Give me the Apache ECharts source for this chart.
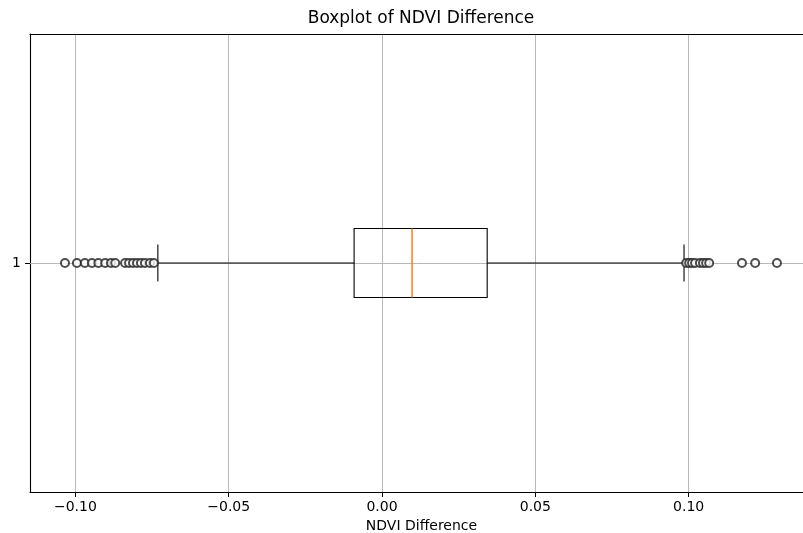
<!DOCTYPE html>
<html>
<head>
<meta charset="utf-8">
<script src="https://cdn.jsdelivr.net/npm/echarts@6/dist/echarts.min.js"></script>
<style>html,body{margin:0;padding:0;background:#fff}#c{width:803px;height:533px}</style>
</head>
<body>
<div id="c"></div>
<script>
// Data
const categories = ['1'];
const boxStats = [-0.0731, -0.0091, 0.0098, 0.0343, 0.0985]; // lower whisker, Q1, median, Q3, upper whisker
const outliersLow = [-0.1034, -0.0995, -0.0969, -0.0946, -0.0925, -0.0903, -0.0884, -0.0870, -0.0838, -0.0825, -0.0812, -0.0799, -0.0786, -0.0773, -0.0757, -0.0744];
const outliersHigh = [0.0992, 0.1002, 0.1011, 0.1021, 0.1037, 0.1047, 0.1057, 0.1067, 0.1174, 0.1217, 0.1288];
const xTicks = [-0.10, -0.05, 0.00, 0.05, 0.10];

const font = 'DejaVu Sans';
const fmt = v => (v < 0 ? '\u2212' : '') + Math.abs(v).toFixed(2);
const X_MIN = -0.1148, X_MAX = 0.1373;

const chart = echarts.init(document.getElementById('c'), null, {renderer: 'canvas'});
const boxData = [[0].concat(boxStats)];
const outData = outliersLow.concat(outliersHigh).map(v => [v, 0]);

chart.setOption({
  animation: false,
  title: {
    text: 'Boxplot of NDVI Difference', left: 421, top: 10, textAlign: 'center', padding: 0,
    textStyle: {fontFamily: font, fontSize: 17, fontWeight: 'normal', color: '#000'}
  },
  grid: {left: 30, right: 0, top: 34, bottom: 41, show: false, containLabel: false, outerBoundsMode: 'none'},
  xAxis: [{
    type: 'value', min: X_MIN, max: X_MAX,
    minInterval: 0.05, maxInterval: 0.05,
    name: 'NDVI Difference', nameLocation: 'middle', nameGap: 26,
    nameTextStyle: {fontFamily: font, fontSize: 14, color: '#000', padding: [0, 0, 0, 10]},
    axisLine: {show: true, onZero: false, lineStyle: {color: '#000', width: 1.1}},
    axisTick: {show: true, length: 5, customValues: xTicks, lineStyle: {color: '#000', width: 1}},
    axisLabel: {fontFamily: font, fontSize: 14, color: '#000', margin: 8, customValues: xTicks,
      formatter: v => fmt(v)},
    splitLine: {show: true, lineStyle: {color: '#b0b0b0', width: 0.9}}
  }, {
    type: 'value', position: 'top', min: X_MIN, max: X_MAX,
    axisLine: {show: true, onZero: false, lineStyle: {color: '#000', width: 1.1}},
    axisTick: {show: false}, axisLabel: {show: false}, splitLine: {show: false}
  }],
  yAxis: {
    type: 'category', data: categories, boundaryGap: true,
    axisLine: {show: true, onZero: false, lineStyle: {color: '#000', width: 1.1}},
    axisTick: {show: true, alignWithLabel: true, length: 5, lineStyle: {color: '#000', width: 1}},
    axisLabel: {fontFamily: font, fontSize: 14, color: '#000', margin: 9},
    splitLine: {show: false}
  },
  series: [
    {
      type: 'custom',
      data: boxData,
      encode: {x: [1, 2, 3, 4, 5], y: 0},
      z: 3,
      renderItem: function (params, api) {
        const y = api.value(0);
        const v = [1, 2, 3, 4, 5].map(i => api.value(i));
        const p = v.map(x => api.coord([x, y]));
        const band = api.size([0, 1])[1];
        const hb = band * 0.0753;
        const hc = band * 0.0404;
        const cy = p[0][1];
        const blk = {stroke: '#000', lineWidth: 1.1, fill: null};
        return {
          type: 'group',
          children: [
            {type: 'line', shape: {x1: p[0][0], y1: cy, x2: p[1][0], y2: cy}, style: blk},
            {type: 'line', shape: {x1: p[3][0], y1: cy, x2: p[4][0], y2: cy}, style: blk},
            {type: 'line', shape: {x1: p[0][0], y1: cy - hc, x2: p[0][0], y2: cy + hc}, style: blk},
            {type: 'line', shape: {x1: p[4][0], y1: cy - hc, x2: p[4][0], y2: cy + hc}, style: blk},
            {type: 'rect', shape: {x: p[1][0], y: cy - hb, width: p[3][0] - p[1][0], height: 2 * hb}, style: {stroke: '#000', lineWidth: 1.1, fill: 'rgba(0,0,0,0)'}},
            {type: 'line', shape: {x1: p[2][0], y1: cy - hb, x2: p[2][0], y2: cy + hb}, style: {stroke: '#ff7f0e', lineWidth: 1.5}}
          ]
        };
      }
    },
    {
      type: 'scatter',
      data: outData,
      symbol: 'emptyCircle',
      symbolSize: 8,
      z: 4,
      itemStyle: {color: '#222', borderWidth: 1.2},
      markLine: {
        silent: true, symbol: 'none', label: {show: false}, z: 1,
        lineStyle: {color: '#b0b0b0', width: 0.9, type: 'solid'},
        data: [{yAxis: categories[0]}]
      }
    }
  ]
});
</script>
</body>
</html>
